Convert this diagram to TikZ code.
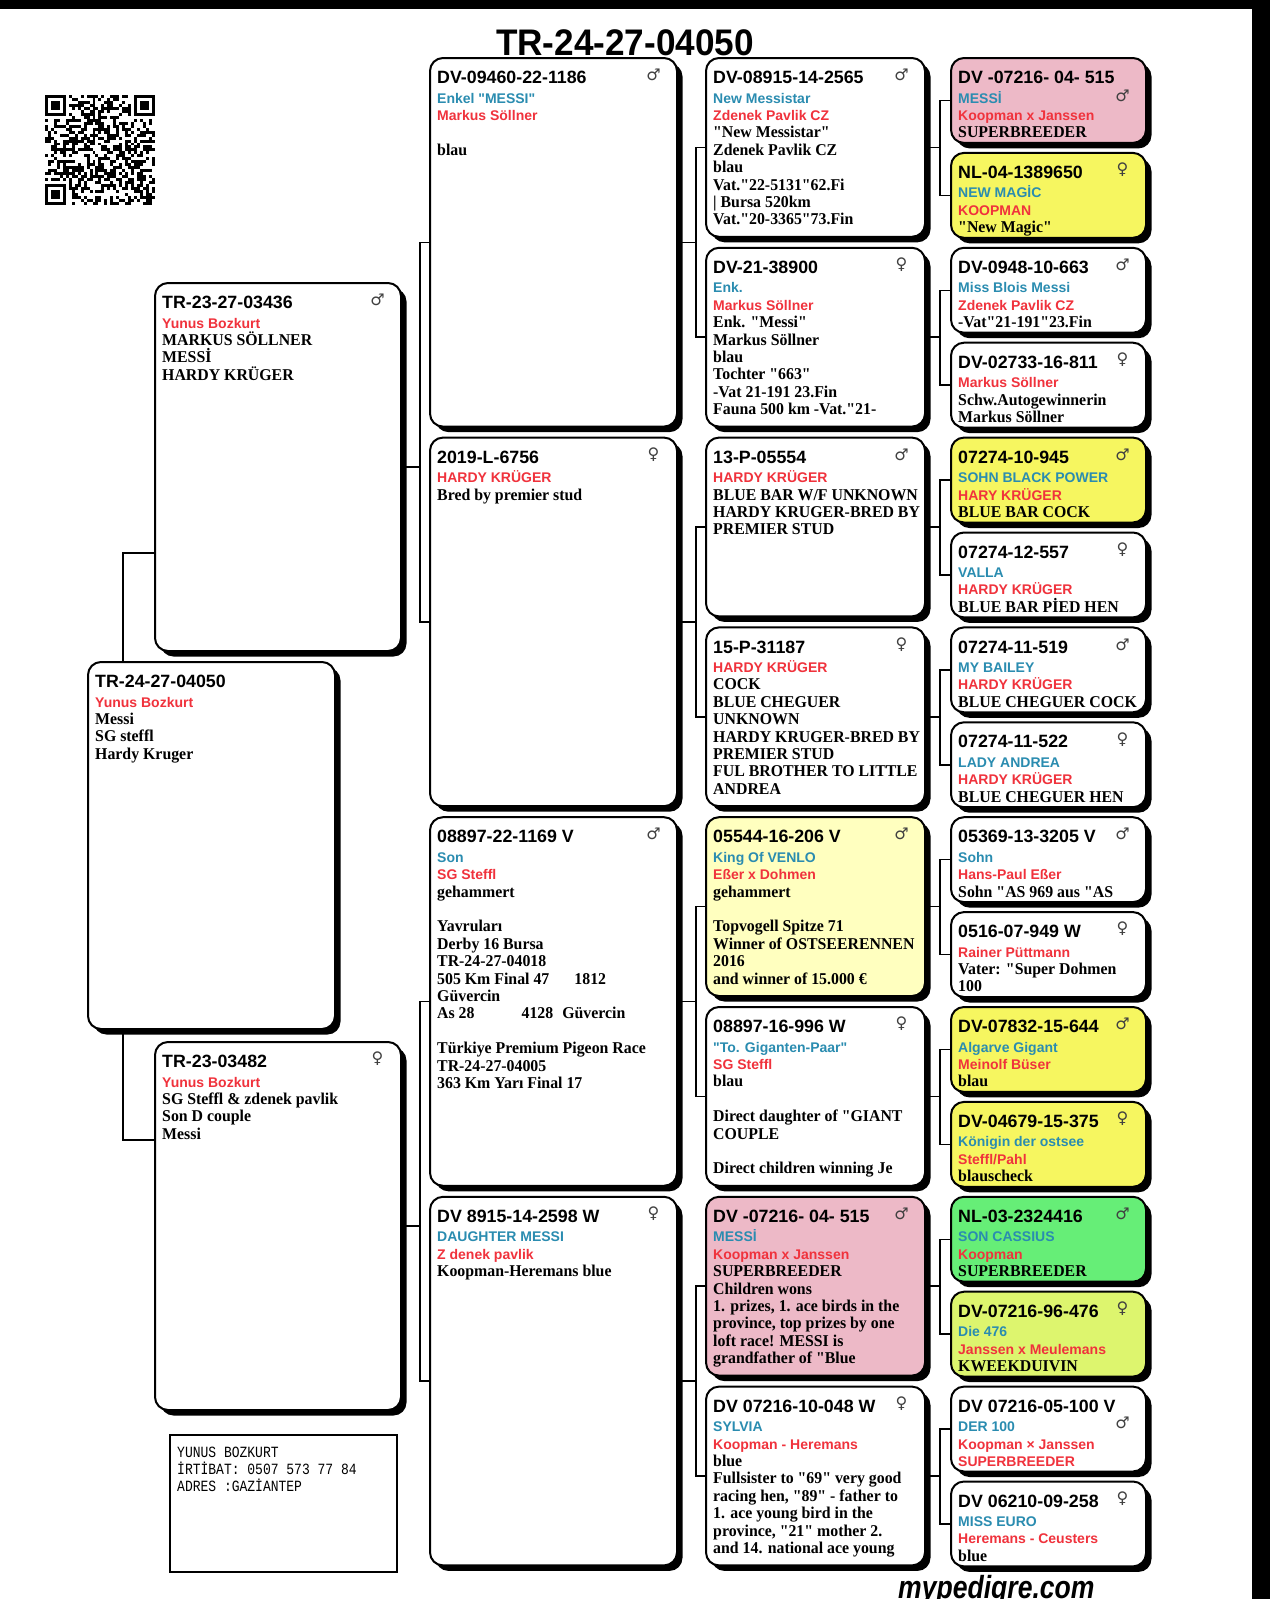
\documentclass[tikz,border=0pt]{standalone}
\usepackage{fontspec}
\usepackage{graphicx}
\usepackage{tikz}
\usetikzlibrary{shadows}
\setmainfont{Liberation Serif}[FakeStretch=0.96,Ligatures=TeXOff]
\newfontfamily\hdfont{Liberation Sans}[Ligatures=TeXOff]
\newfontfamily\sxfont{DejaVu Sans}
\newfontfamily\infofont{Liberation Mono}[Ligatures=TeXOff]
\definecolor{msblue}{HTML}{2A8CB0}
\definecolor{msred}{HTML}{F0323C}
\definecolor{pinkbox}{HTML}{EDB9C7}
\definecolor{yelbox}{HTML}{F6F660}
\definecolor{paleyel}{HTML}{FFFFBF}
\definecolor{greenbox}{HTML}{66EE77}
\definecolor{limebox}{HTML}{DDF56E}
\newcommand{\cod}[1]{{\hdfont\fontsize{17.8}{17.4}\selectfont#1}}
\newcommand{\nam}[1]{{\hdfont\fontsize{14}{17.4}\selectfont\color{msblue}#1}}
\newcommand{\own}[1]{{\hdfont\fontsize{14}{17.4}\selectfont\color{msred}#1}}
% name, x, y, width, height, fill, sex, sex drop, text
\newcommand{\bird}[9]{\node[pbox,fill=#6,minimum width=#4,minimum height=#5] (#1) at (#2,#3) {};
  \node[ptxt] (#1t) at ([shift={(8pt,-14pt)}]#1.north west) {#9};
  \node[sexmark] (#1g) at ([shift={(-24.5pt,-#8)}]#1.north east) {#7};}
\newcommand{\cthree}[6][18pt]{\bird{#2}{429}{57+#3*379.6}{247pt}{368.6pt}{#4}{#5}{#1}{#6}}
\newcommand{\cfour}[6][18pt]{\bird{#2}{705}{57+#3*189.8}{219pt}{178.8pt}{#4}{#5}{#1}{#6}}
\newcommand{\cfive}[6][18pt]{\bird{#2}{950}{57+#3*94.9}{195pt}{84.9pt}{#4}{#5}{#1}{#6}}
\newcommand{\pedlink}[4]{\draw[lnk] (#1.east) -- ++(#4pt,0) (#2.west) -| ([xshift=#4pt]#1.east) |- (#3.west);}

\begin{document}
\begin{tikzpicture}[x=1pt,y=-1pt,
  pbox/.style={draw,line width=2pt,rounded corners=13pt,anchor=north west,inner sep=0pt,
    general shadow={fill=black,shadow xshift=5.5pt,shadow yshift=-5.5pt}},
  ptxt/.style={anchor=north west,inner sep=0pt,align=left,font=\bfseries\fontsize{16.5}{17.4}\selectfont},
  sexmark/.style={inner sep=0pt,text=black!75,font=\sxfont\fontsize{16}{16}\selectfont},
  lnk/.style={line width=1.5pt}]
\useasboundingbox (0,0) rectangle (1270,1599);
\fill[white] (0,0) rectangle (1270,1599);
\fill[black] (0,0) rectangle (1270,9);
\fill[black] (1252,0) rectangle (1270,1599);

\node[anchor=base] (title) at (625,55) {\scalebox{0.95}[1]{\hdfont\bfseries\fontsize{37}{37}\selectfont TR-24-27-04050}};

% qr code
\begin{scope}[shift={(45,95)},x=2.97pt,y=-2.97pt]
\pgfmathsetseed{12}
\foreach \i in {0,...,36}{\foreach \j in {0,...,36}{
  \pgfmathtruncatemacro\qon{(rnd<0.5)&&!((\i<8&&\j<8)||(\i>28&&\j<8)||(\i<8&&\j>28))}
  \ifnum\qon=1 \fill (\i,\j) rectangle ++(1,1);\fi}}
\foreach \a/\b in {0/0,30/0,0/30}{\fill (\a,\b) rectangle ++(7,7); \fill[white] (\a+1,\b+1) rectangle ++(5,5); \fill (\a+2,\b+2) rectangle ++(3,3);}
\end{scope}

\bird{subj}{87}{661}{247pt}{367pt}{white}{}{18pt}{\cod{TR-24-27-04050}\\[2pt]\own{Yunus Bozkurt}\\Messi\\SG steffl\\Hardy Kruger}
\bird{s}{154}{282}{246pt}{368pt}{white}{♂}{18pt}{\cod{TR-23-27-03436}\\[2pt]\own{Yunus Bozkurt}\\MARKUS SÖLLNER\\MESSİ\\HARDY KRÜGER}
\bird{d}{154}{1041}{246pt}{368pt}{white}{♀}{18pt}{\cod{TR-23-03482}\\[2pt]\own{Yunus Bozkurt}\\SG Steffl \& zdenek pavlik\\Son D couple\\Messi}

\cthree{ss}{0}{white}{♂}{\cod{DV-09460-22-1186}\\[2pt]\nam{Enkel "MESSI"}\\\own{Markus Söllner}\\~\\blau}
\cthree{sd}{1}{white}{♀}{\cod{2019-L-6756}\\[2pt]\own{HARDY KRÜGER}\\Bred by premier stud}
\cthree{ds}{2}{white}{♂}{\cod{08897-22-1169 V}\\[2pt]\nam{Son}\\\own{SG Steffl}\\gehammert\\~\\Yavruları\\Derby 16 Bursa\\TR-24-27-04018\\505 Km Final 47\hspace{25pt}1812\\Güvercin\\As 28\hspace{47pt}4128\hspace{9pt}Güvercin\\~\\Türkiye Premium Pigeon Race\\TR-24-27-04005\\363 Km Yarı Final 17}
\cthree{dd}{3}{white}{♀}{\cod{DV 8915-14-2598 W}\\[2pt]\nam{DAUGHTER MESSI}\\\own{Z denek pavlik}\\Koopman-Heremans blue}

\cfour{sss}{0}{white}{♂}{\cod{DV-08915-14-2565}\\[2pt]\nam{New Messistar}\\\own{Zdenek Pavlik CZ}\\"New Messistar"\\Zdenek Pavlik CZ\\blau\\Vat."22-5131"62.Fi\\| Bursa 520km\\Vat."20-3365"73.Fin}
\cfour{ssd}{1}{white}{♀}{\cod{DV-21-38900}\\[2pt]\nam{Enk.}\\\own{Markus Söllner}\\Enk. "Messi"\\Markus Söllner\\blau\\Tochter "663"\\-Vat 21-191 23.Fin\\Fauna 500 km -Vat."21-}
\cfour{sds}{2}{white}{♂}{\cod{13-P-05554}\\[2pt]\own{HARDY KRÜGER}\\BLUE BAR W/F UNKNOWN\\HARDY KRUGER-BRED BY\\PREMIER STUD}
\cfour{sdd}{3}{white}{♀}{\cod{15-P-31187}\\[2pt]\own{HARDY KRÜGER}\\COCK\\BLUE CHEGUER\\UNKNOWN\\HARDY KRUGER-BRED BY\\PREMIER STUD\\FUL BROTHER TO LITTLE\\ANDREA}
\cfour{dss}{4}{paleyel}{♂}{\cod{05544-16-206 V}\\[2pt]\nam{King Of VENLO}\\\own{Eßer x Dohmen}\\gehammert\\~\\Topvogell Spitze 71\\Winner of OSTSEERENNEN\\2016\\and winner of 15.000 €}
\cfour{dsd}{5}{white}{♀}{\cod{08897-16-996 W}\\[2pt]\nam{"To. Giganten-Paar"}\\\own{SG Steffl}\\blau\\~\\Direct daughter of "GIANT\\COUPLE\\~\\Direct children winning Je}
\cfour{dds}{6}{pinkbox}{♂}{\cod{DV -07216- 04- 515}\\[2pt]\nam{MESSİ}\\\own{Koopman x Janssen}\\SUPERBREEDER\\Children wons\\1. prizes, 1. ace birds in the\\province, top prizes by one\\loft race! MESSI is\\grandfather of "Blue}
\cfour{ddd}{7}{white}{♀}{\cod{DV 07216-10-048 W}\\[2pt]\nam{SYLVIA}\\\own{Koopman - Heremans}\\blue\\Fullsister to "69" very good\\racing hen, "89" - father to\\1. ace young bird in the\\province, "21" mother 2.\\and 14. national ace young}

\cfive[39pt]{ssss}{0}{pinkbox}{♂}{\cod{DV -07216- 04- 515}\\[2pt]\nam{MESSİ}\\\own{Koopman x Janssen}\\SUPERBREEDER}
\cfive{sssd}{1}{yelbox}{♀}{\cod{NL-04-1389650}\\[2pt]\nam{NEW MAGİC}\\\own{KOOPMAN}\\"New Magic"}
\cfive{ssds}{2}{white}{♂}{\cod{DV-0948-10-663}\\[2pt]\nam{Miss Blois Messi}\\\own{Zdenek Pavlik CZ}\\-Vat"21-191"23.Fin}
\cfive{ssdd}{3}{white}{♀}{\cod{DV-02733-16-811}\\[2pt]\own{Markus Söllner}\\Schw.Autogewinnerin\\Markus Söllner}
\cfive{sdss}{4}{yelbox}{♂}{\cod{07274-10-945}\\[2pt]\nam{SOHN BLACK POWER}\\\own{HARY KRÜGER}\\BLUE BAR COCK}
\cfive{sdsd}{5}{white}{♀}{\cod{07274-12-557}\\[2pt]\nam{VALLA}\\\own{HARDY KRÜGER}\\BLUE BAR PİED HEN}
\cfive{sdds}{6}{white}{♂}{\cod{07274-11-519}\\[2pt]\nam{MY BAILEY}\\\own{HARDY KRÜGER}\\BLUE CHEGUER COCK}
\cfive{sddd}{7}{white}{♀}{\cod{07274-11-522}\\[2pt]\nam{LADY ANDREA}\\\own{HARDY KRÜGER}\\BLUE CHEGUER HEN}
\cfive{dsss}{8}{white}{♂}{\cod{05369-13-3205 V}\\[2pt]\nam{Sohn}\\\own{Hans-Paul Eßer}\\Sohn "AS 969 aus "AS}
\cfive{dssd}{9}{white}{♀}{\cod{0516-07-949 W}\\[2pt]\own{Rainer Püttmann}\\Vater: "Super Dohmen\\100}
\cfive{dsds}{10}{yelbox}{♂}{\cod{DV-07832-15-644}\\[2pt]\nam{Algarve Gigant}\\\own{Meinolf Büser}\\blau}
\cfive{dsdd}{11}{yelbox}{♀}{\cod{DV-04679-15-375}\\[2pt]\nam{Königin der ostsee}\\\own{Steffl/Pahl}\\blauscheck}
\cfive{ddss}{12}{greenbox}{♂}{\cod{NL-03-2324416}\\[2pt]\nam{SON CASSIUS}\\\own{Koopman}\\SUPERBREEDER}
\cfive{ddsd}{13}{limebox}{♀}{\cod{DV-07216-96-476}\\[2pt]\nam{Die 476}\\\own{Janssen x Meulemans}\\KWEEKDUIVIN}
\cfive[37pt]{ddds}{14}{white}{♂}{\cod{DV 07216-05-100 V}\\[2pt]\nam{DER 100}\\\own{Koopman × Janssen}\\\own{SUPERBREEDER}}
\cfive{dddd}{15}{white}{♀}{\cod{DV 06210-09-258}\\[2pt]\nam{MISS EURO}\\\own{Heremans - Ceusters}\\blue}

\draw[lnk] ([xshift=36pt]subj.north west) |- ([yshift=-86pt]s.west);
\draw[lnk] ([xshift=36pt]subj.south west) |- ([yshift=86pt]d.west);
\foreach \p in {s,d} {\pedlink{\p}{\p s}{\p d}{18}}
\foreach \p in {ss,sd,ds,dd} {\pedlink{\p}{\p s}{\p d}{18}}
\foreach \p in {sss,ssd,sds,sdd,dss,dsd,dds,ddd} {\pedlink{\p}{\p s}{\p d}{14}}

\node[draw,line width=1.5pt,anchor=north west,minimum width=227pt,minimum height=137pt] (info) at (169,1434) {};
\node[anchor=north west,inner sep=0pt] (infot) at ([shift={(8pt,-12pt)}]info.north west) {\scalebox{1}[1.2]{\infofont\fontsize{13}{13}\selectfont\begin{tabular}{@{}l@{}}YUNUS BOZKURT\\İRTİBAT: 0507 573 77 84\\ADRES :GAZİANTEP\end{tabular}}};

\node[anchor=base west,inner sep=0pt] (logo) at (898,1598) {\scalebox{0.83}[1]{\hdfont\bfseries\itshape\fontsize{32}{32}\selectfont mypedigre.com}};
\end{tikzpicture}
\end{document}
